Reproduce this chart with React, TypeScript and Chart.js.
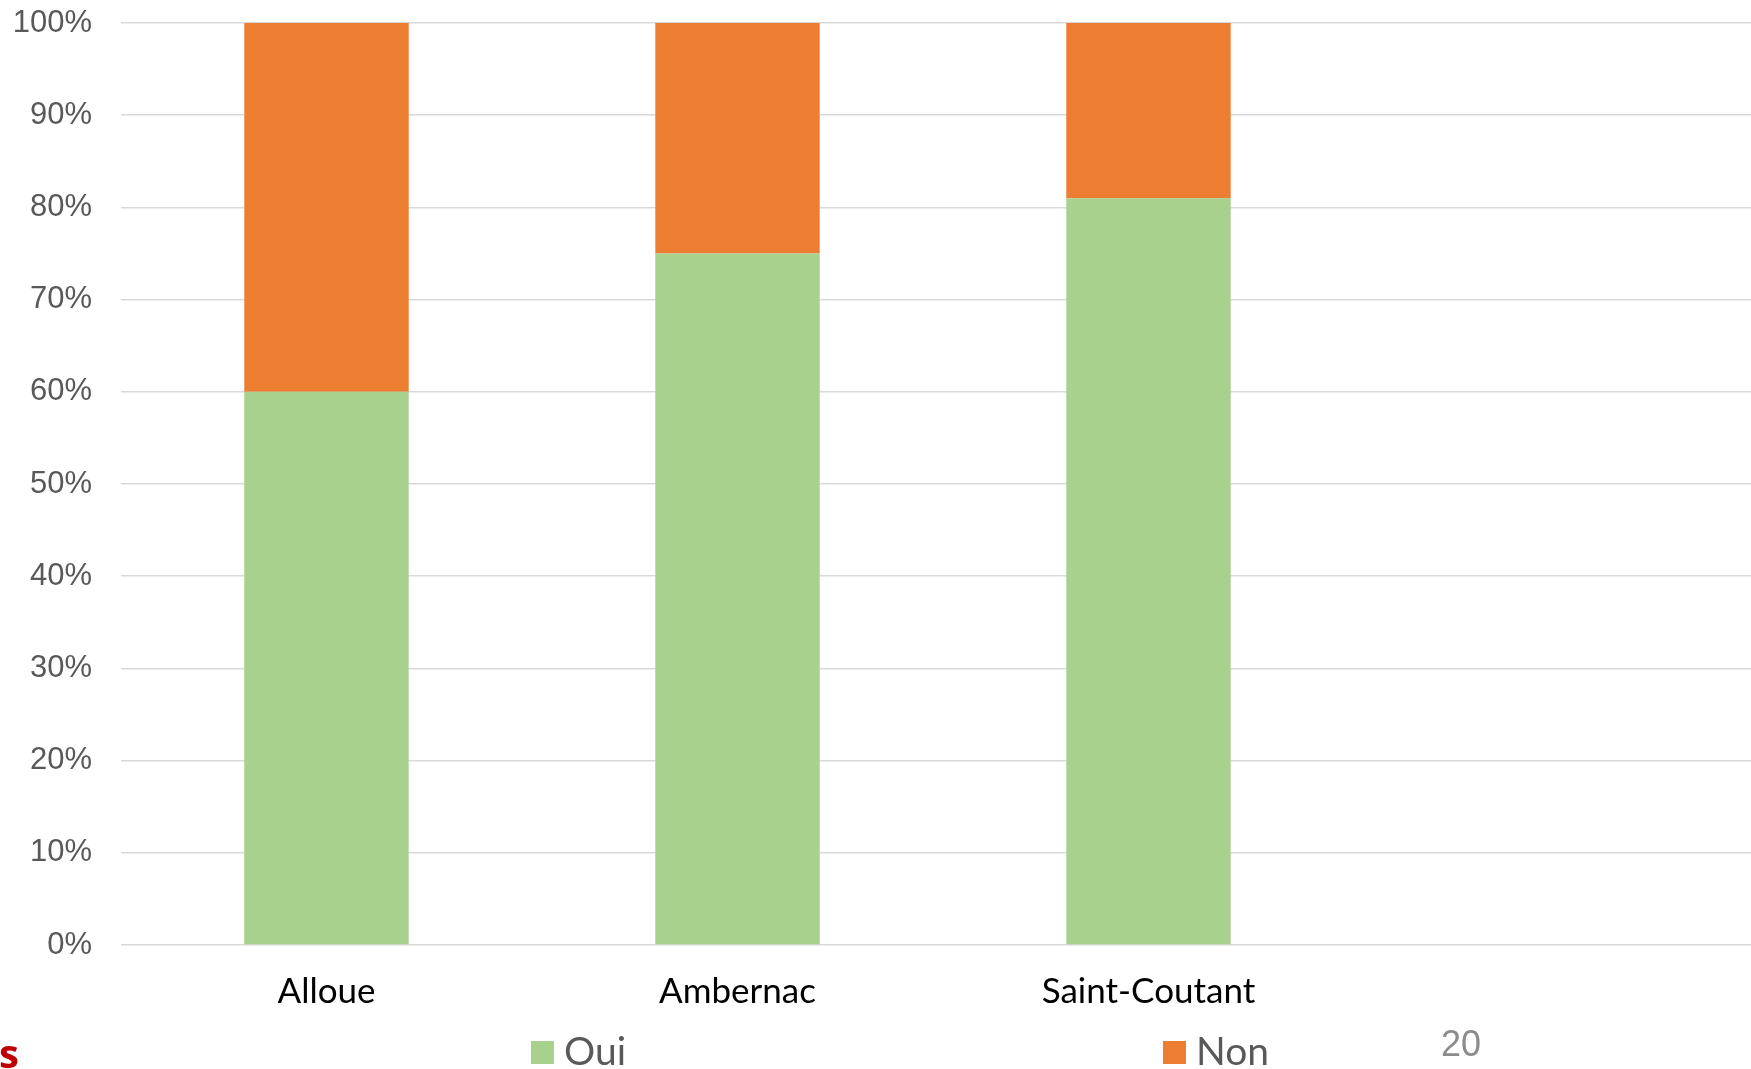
import React, { useEffect, useRef } from "react";
import { Chart, registerables } from "chart.js";

Chart.register(...registerables);

const categories = ["Alloue", "Ambernac", "Saint-Coutant", ""];
const ouiValues = [60, 75, 81, null];
const nonValues = [40, 25, 19, null];
const yTicks = { min: 0, max: 100, step: 10 };
const seriesNames = ["Oui", "Non"];
const seriesColors = ["#a9d18e", "#ed7d31"];
const pageNumber = "20";
const cutText = "s";

const extrasPlugin = {
  id: "extras",
  afterDraw(chart: any) {
    const ctx = chart.ctx;
    ctx.save();
    // custom legend
    const items = [
      { x: 531, text: seriesNames[0], color: seriesColors[0] },
      { x: 1163, text: seriesNames[1], color: seriesColors[1] },
    ];
    ctx.font = "39px Lato";
    ctx.textBaseline = "alphabetic";
    ctx.textAlign = "left";
    items.forEach((it) => {
      ctx.fillStyle = it.color;
      ctx.fillRect(it.x, 1041, 23, 23);
      ctx.fillStyle = "#595959";
      ctx.fillText(it.text, it.x + 33, 1065);
    });
    ctx.fillStyle = "#8c8c8c";
    ctx.font = "36px 'Liberation Sans'";
    ctx.fillText(pageNumber, 1441, 1056);
    ctx.fillStyle = "#c00000";
    ctx.font = "bold 40px 'Open Sans'";
    ctx.fillText(cutText, -1, 1068);
    ctx.restore();
  },
};

export default function App() {
  const ref = useRef<HTMLCanvasElement>(null);
  useEffect(() => {
    if (!ref.current) return;
    const chart = new Chart(ref.current, {
      type: "bar",
      data: {
        labels: categories,
        datasets: [
          {
            label: seriesNames[0],
            data: ouiValues,
            backgroundColor: seriesColors[0],
            barPercentage: 0.4,
            categoryPercentage: 1,
          },
          {
            label: seriesNames[1],
            data: nonValues,
            backgroundColor: seriesColors[1],
            barPercentage: 0.4,
            categoryPercentage: 1,
          },
        ],
      },
      options: {
        animation: false,
        responsive: true,
        maintainAspectRatio: false,
        layout: { padding: { top: 23, right: 5, left: 0, bottom: 0 } },
        plugins: { legend: { display: false }, tooltip: { enabled: false } },
        scales: {
          x: {
            stacked: true,
            grid: { display: false, drawTicks: false },
            border: { display: false },
            ticks: {
              color: "#000000",
              font: { family: "Lato", size: 35 },
              padding: 26,
              maxRotation: 0,
              autoSkip: false,
            },
            afterFit: (scale: any) => {
              scale.height = 124;
            },
          },
          y: {
            stacked: true,
            min: yTicks.min,
            max: yTicks.max,
            grid: {
              color: "#d9d9d9",
              lineWidth: 1.5,
              drawTicks: true,
              tickLength: 29,
              tickColor: "rgba(0,0,0,0)",
            },
            border: { display: false },
            ticks: {
              stepSize: yTicks.step,
              color: "#595959",
              font: { family: "'Liberation Sans', Arial", size: 31 },
              padding: 0,
              callback: (v: any) => v + "%",
            },
            afterFit: (scale: any) => {
              scale.width = 121;
            },
          },
        },
      },
      plugins: [extrasPlugin],
    });
    return () => chart.destroy();
  }, []);
  return (
    <div
      style={{
        position: "fixed",
        left: 0,
        top: 0,
        width: 1751,
        height: 1069,
        overflow: "hidden",
        background: "#ffffff",
      }}
    >
      <div style={{ position: "relative", width: 1770, height: 1069 }}>
        <canvas ref={ref} />
      </div>
    </div>
  );
}
